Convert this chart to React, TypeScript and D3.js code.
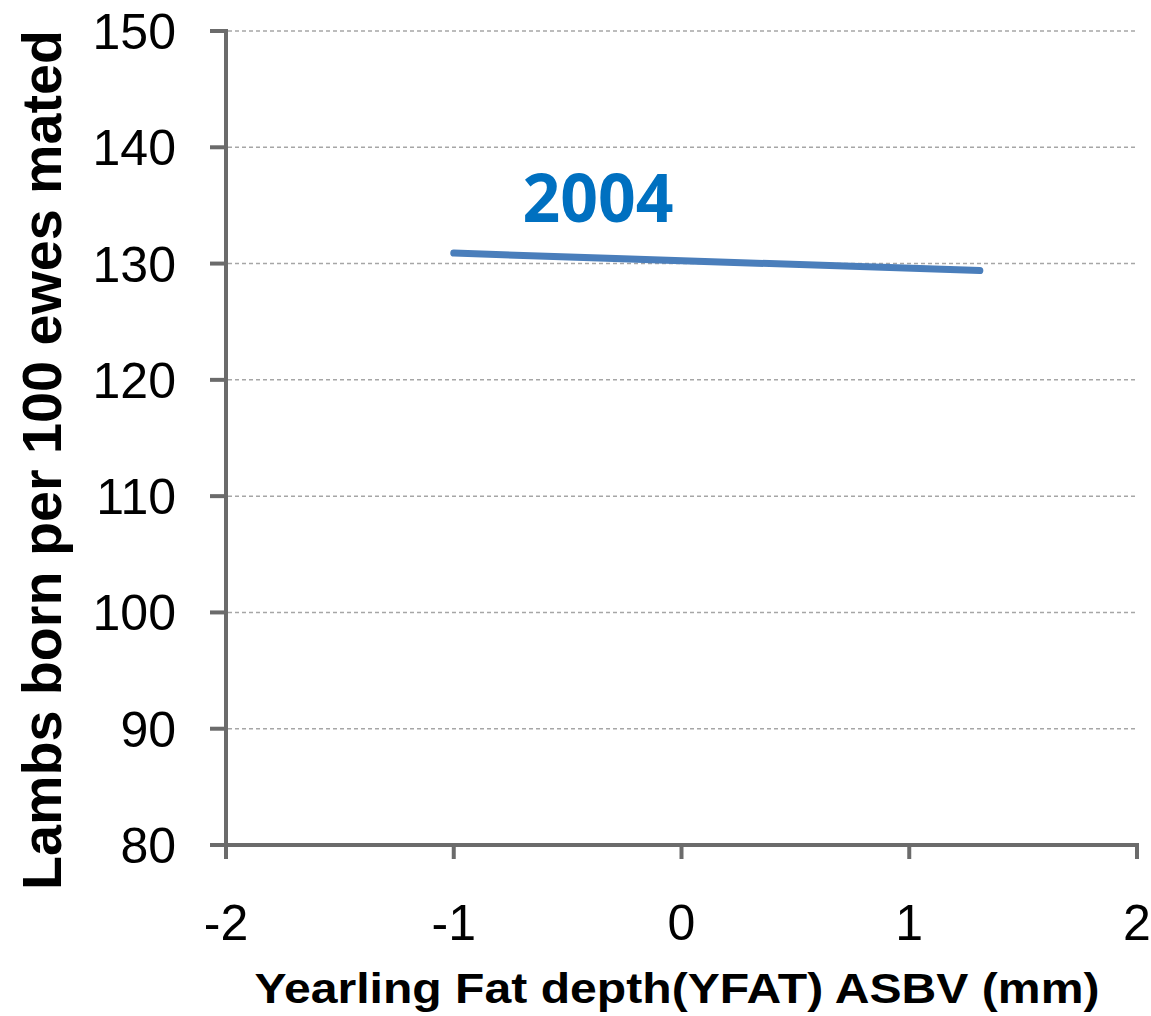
import * as d3 from "d3";
import React, { useEffect, useRef } from "react";

const xTicks = [-2, -1, 0, 1, 2];
const yTicks = [80, 90, 100, 110, 120, 130, 140, 150];
const lineX = [-1, 1.31];
const lineY = [130.9, 129.4];
const seriesLabel = "2004";
const xTitle = "Yearling Fat depth(YFAT) ASBV (mm)";
const yTitle = "Lambs born per 100 ewes mated";

const W = 1151;
const H = 1016;

const App: React.FC = () => {
  const svgRef = useRef<SVGSVGElement>(null);

  useEffect(() => {
    if (!svgRef.current) return;
    const svg = d3.select(svgRef.current);
    svg.selectAll("*").remove();

    const x = d3.scaleLinear().domain([-2, 2]).range([226, 1137]);
    const y = d3.scaleLinear().domain([80, 150]).range([845, 31]);

    // Gridlines
    svg
      .selectAll(".grid")
      .data(yTicks.filter((t) => t !== 80))
      .join("line")
      .attr("class", "grid")
      .attr("x1", x(-2) + 2)
      .attr("x2", x(2))
      .attr("y1", (d) => y(d))
      .attr("y2", (d) => y(d))
      .attr("stroke", "#a6a6a6")
      .attr("stroke-width", 1.5)
      .attr("stroke-dasharray", "4,3");

    const axisColor = "#6b6b6b";

    // Y axis line and ticks
    svg
      .append("line")
      .attr("x1", x(-2))
      .attr("x2", x(-2))
      .attr("y1", y(150) - 2)
      .attr("y2", y(80) + 14)
      .attr("stroke", axisColor)
      .attr("stroke-width", 4);
    svg
      .selectAll(".ytick")
      .data(yTicks)
      .join("line")
      .attr("class", "ytick")
      .attr("x1", x(-2) - 16)
      .attr("x2", x(-2))
      .attr("y1", (d) => y(d))
      .attr("y2", (d) => y(d))
      .attr("stroke", axisColor)
      .attr("stroke-width", 4);

    // X axis line and ticks
    svg
      .append("line")
      .attr("x1", x(-2) - 16)
      .attr("x2", x(2) + 2)
      .attr("y1", y(80))
      .attr("y2", y(80))
      .attr("stroke", axisColor)
      .attr("stroke-width", 4);
    svg
      .selectAll(".xtick")
      .data(xTicks)
      .join("line")
      .attr("class", "xtick")
      .attr("x1", (d) => x(d))
      .attr("x2", (d) => x(d))
      .attr("y1", y(80))
      .attr("y2", y(80) + 14)
      .attr("stroke", axisColor)
      .attr("stroke-width", 4);

    // Tick labels
    svg
      .selectAll(".ylab")
      .data(yTicks)
      .join("text")
      .attr("class", "ylab")
      .attr("x", 176)
      .attr("y", (d) => y(d))
      .attr("dy", "0.36em")
      .attr("text-anchor", "end")
      .style("font-family", "'Liberation Sans', Arial, sans-serif")
      .style("font-size", "50px")
      .attr("fill", "#000")
      .text((d) => d);

    svg
      .selectAll(".xlab")
      .data(xTicks)
      .join("text")
      .attr("class", "xlab")
      .attr("x", (d) => x(d))
      .attr("y", 940)
      .attr("text-anchor", "middle")
      .style("font-family", "'Liberation Sans', Arial, sans-serif")
      .style("font-size", "50px")
      .attr("fill", "#000")
      .text((d) => d);

    // Series line
    const pts: [number, number][] = lineX.map((v, i) => [v, lineY[i]]);
    svg
      .append("path")
      .datum(pts)
      .attr(
        "d",
        d3
          .line<[number, number]>()
          .x((d) => x(d[0]))
          .y((d) => y(d[1])),
      )
      .attr("fill", "none")
      .attr("stroke", "#4a7ebb")
      .attr("stroke-width", 7)
      .attr("stroke-linecap", "round");

    // Series label
    svg
      .append("text")
      .attr("x", 598)
      .attr("y", 222)
      .attr("text-anchor", "middle")
      .style("font-family", "'Open Sans', 'Noto Sans', sans-serif")
      .style("font-weight", "700")
      .style("font-size", "66px")
      .attr("fill", "#0070c0")
      .text(seriesLabel);

    // Axis titles
    svg
      .append("text")
      .attr("x", 677)
      .attr("y", 1003)
      .attr("text-anchor", "middle")
      .attr("textLength", 845)
      .attr("lengthAdjust", "spacingAndGlyphs")
      .style("font-family", "'Liberation Sans', Arial, sans-serif")
      .style("font-weight", "700")
      .style("font-size", "42px")
      .attr("fill", "#000")
      .text(xTitle);

    svg
      .append("text")
      .attr("transform", `translate(61,460) rotate(-90)`)
      .attr("text-anchor", "middle")
      .attr("textLength", 860)
      .attr("lengthAdjust", "spacingAndGlyphs")
      .style("font-family", "'Liberation Sans', Arial, sans-serif")
      .style("font-weight", "700")
      .style("font-size", "56px")
      .attr("fill", "#000")
      .text(yTitle);
  }, []);

  return (
    <svg
      ref={svgRef}
      width={W}
      height={H}
      style={{ position: "absolute", left: 0, top: 0, background: "#fff" }}
    />
  );
};

export default App;
